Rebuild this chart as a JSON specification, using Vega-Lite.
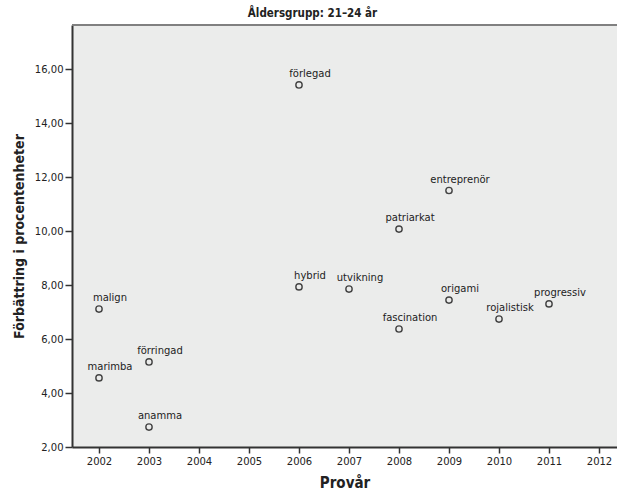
{
  "$schema": "https://vega.github.io/schema/vega-lite/v6.json",
  "autosize": {"type": "none"},
  "padding": {"left": 72, "top": 25, "right": 0, "bottom": 46},
  "width": 545,
  "height": 422,
  "background": "white",
  "title": {"text": "Åldersgrupp: 21–24 år", "anchor": "middle", "dx": -32, "offset": 5, "font": "DejaVu Sans Condensed", "fontSize": 11.5, "fontWeight": "bold", "color": "#222"},
  "data": {"values": [
    {"ord": "förlegad", "ar": 2006, "v": 15.41},
    {"ord": "entreprenör", "ar": 2009, "v": 11.5},
    {"ord": "patriarkat", "ar": 2008, "v": 10.07},
    {"ord": "hybrid", "ar": 2006, "v": 7.93},
    {"ord": "utvikning", "ar": 2007, "v": 7.85},
    {"ord": "origami", "ar": 2009, "v": 7.44},
    {"ord": "progressiv", "ar": 2011, "v": 7.3},
    {"ord": "rojalistisk", "ar": 2010, "v": 6.74},
    {"ord": "fascination", "ar": 2008, "v": 6.37},
    {"ord": "malign", "ar": 2002, "v": 7.11},
    {"ord": "förringad", "ar": 2003, "v": 5.15},
    {"ord": "marimba", "ar": 2002, "v": 4.56},
    {"ord": "anamma", "ar": 2003, "v": 2.74}
  ]},
  "encoding": {
    "x": {"field": "ar", "type": "quantitative",
      "scale": {"domain": [2001.46, 2012.36], "nice": false, "zero": false},
      "axis": {"title": "Provår", "values": [2002, 2003, 2004, 2005, 2006, 2007, 2008, 2009, 2010, 2011, 2012], "format": "d", "grid": false,
        "domainColor": "#333", "domainWidth": 2, "tickColor": "#333", "tickWidth": 1.5, "tickSize": 6,
        "labelFont": "DejaVu Sans", "labelFontSize": 10, "labelColor": "#222", "labelPadding": 3,
        "titleFont": "DejaVu Sans Condensed", "titleFontSize": 15, "titleFontWeight": "bold", "titleColor": "#222", "titlePadding": 9}},
    "y": {"field": "v", "type": "quantitative",
      "scale": {"domain": [2, 17.63], "nice": false, "zero": false},
      "axis": {"title": "Förbättring i procentenheter", "values": [2, 4, 6, 8, 10, 12, 14, 16], "labelExpr": "replace(format(datum.value, '.2f'), '.', ',')", "grid": false,
        "domainColor": "#333", "domainWidth": 2, "tickColor": "#333", "tickWidth": 1.5, "tickSize": 7,
        "labelFont": "DejaVu Sans", "labelFontSize": 10, "labelColor": "#222", "labelPadding": 2,
        "titleFont": "DejaVu Sans Condensed", "titleFontSize": 14, "titleFontWeight": "bold", "titleColor": "#222", "titlePadding": 8}}
  },
  "layer": [
    {"mark": {"type": "rule", "color": "#808080", "strokeWidth": 2},
     "encoding": {"y": {"datum": 17.63}, "x": null}},
    {"mark": {"type": "point", "shape": "circle", "filled": false, "size": 40, "stroke": "#444", "strokeWidth": 1.4, "opacity": 1}},
    {"mark": {"type": "text", "font": "DejaVu Sans", "fontSize": 10, "color": "#222", "align": "center", "baseline": "alphabetic", "dx": 11, "dy": -8},
     "encoding": {"text": {"field": "ord"}}}
  ],
  "config": {
    "view": {"fill": "#EBECEB", "stroke": null}
  }
}
